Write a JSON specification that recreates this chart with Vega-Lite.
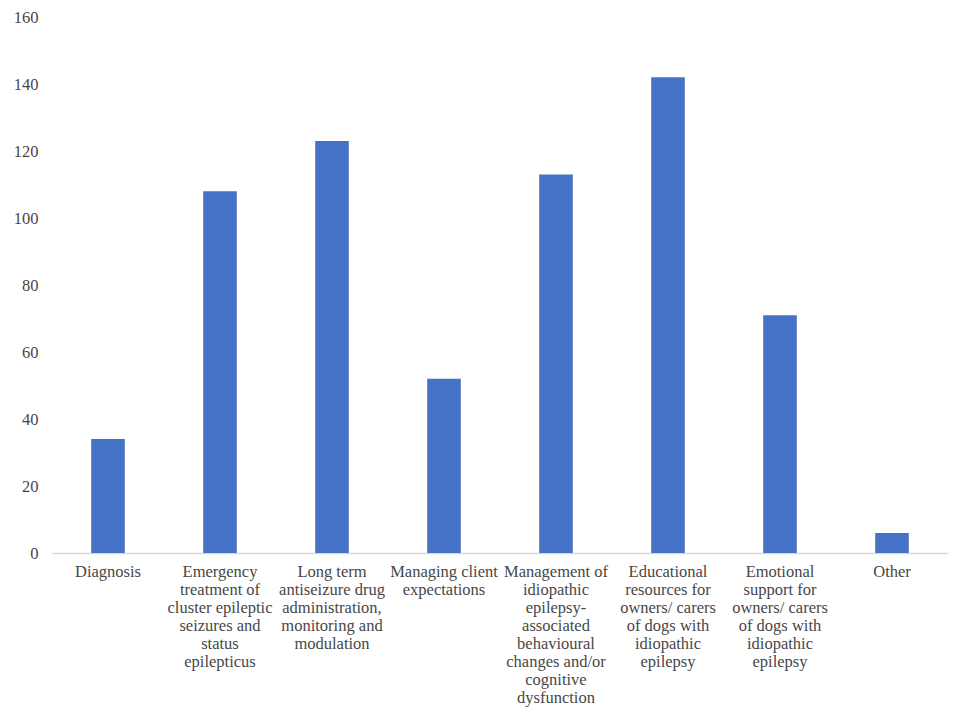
{
  "$schema": "https://vega.github.io/schema/vega-lite/v6.json",
  "autosize": "none",
  "width": 896,
  "height": 536,
  "padding": {"left": 52, "top": 17, "right": 9, "bottom": 168},
  "background": "white",
  "config": {
    "view": {"stroke": null},
    "font": "'Liberation Serif', serif"
  },
  "data": {
    "values": [
      {"category": "Diagnosis", "count": 34},
      {"category": "Emergency treatment of cluster epileptic seizures and status epilepticus", "count": 108},
      {"category": "Long term antiseizure drug administration, monitoring and modulation", "count": 123},
      {"category": "Managing client expectations", "count": 52},
      {"category": "Management of idiopathic epilepsy-associated behavioural changes and/or cognitive dysfunction", "count": 113},
      {"category": "Educational resources for owners/ carers of dogs with idiopathic epilepsy", "count": 142},
      {"category": "Emotional support for owners/ carers of dogs with idiopathic epilepsy", "count": 71},
      {"category": "Other", "count": 6}
    ]
  },
  "mark": {"type": "bar", "color": "#4472C4"},
  "encoding": {
    "x": {
      "field": "category",
      "type": "nominal",
      "sort": null,
      "title": null,
      "scale": {"paddingInner": 0.7, "paddingOuter": 0.35},
      "axis": {
        "labelAngle": 0,
        "ticks": false,
        "domainColor": "#d9d9d9",
        "domainWidth": 1.5,
        "labelFont": "'Liberation Serif', serif",
        "labelFontSize": 16.5,
        "labelColor": "#474747",
        "labelPadding": 10,
        "labelLineHeight": 18,
        "labelLimit": 200,
        "labelExpr": "({'Diagnosis': ['Diagnosis'], 'Emergency treatment of cluster epileptic seizures and status epilepticus': ['Emergency', 'treatment of', 'cluster epileptic', 'seizures and', 'status', 'epilepticus'], 'Long term antiseizure drug administration, monitoring and modulation': ['Long term', 'antiseizure drug', 'administration,', 'monitoring and', 'modulation'], 'Managing client expectations': ['Managing client', 'expectations'], 'Management of idiopathic epilepsy-associated behavioural changes and/or cognitive dysfunction': ['Management of', 'idiopathic', 'epilepsy-', 'associated', 'behavioural', 'changes and/or', 'cognitive', 'dysfunction'], 'Educational resources for owners/ carers of dogs with idiopathic epilepsy': ['Educational', 'resources for', 'owners/ carers', 'of dogs with', 'idiopathic', 'epilepsy'], 'Emotional support for owners/ carers of dogs with idiopathic epilepsy': ['Emotional', 'support for', 'owners/ carers', 'of dogs with', 'idiopathic', 'epilepsy'], 'Other': ['Other']})[datum.value]"
      }
    },
    "y": {
      "field": "count",
      "type": "quantitative",
      "title": null,
      "scale": {"domain": [0, 160], "nice": false},
      "axis": {
        "values": [0, 20, 40, 60, 80, 100, 120, 140, 160],
        "grid": false,
        "domain": false,
        "ticks": false,
        "labelFont": "'Liberation Serif', serif",
        "labelFontSize": 16.5,
        "labelColor": "#474747",
        "labelPadding": 14
      }
    }
  }
}
